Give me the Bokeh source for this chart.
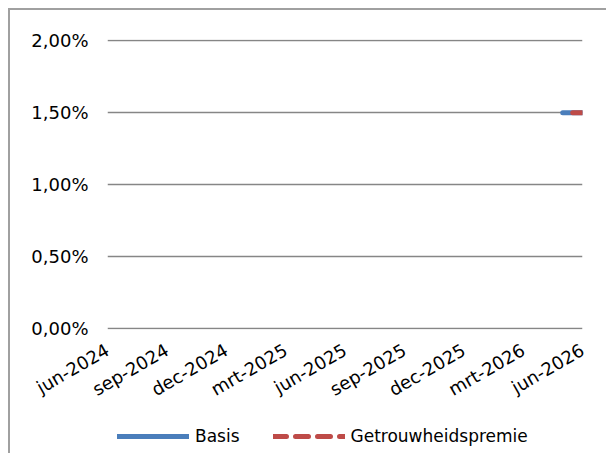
from bokeh.plotting import figure
from bokeh.layouts import column
from bokeh.models import Legend, LegendItem, FixedTicker, ColumnDataSource
from bokeh.embed import file_html
from bokeh.resources import INLINE

# ---- data ----
tick_labels = ["jun-2024", "sep-2024", "dec-2024", "mrt-2025", "jun-2025",
               "sep-2025", "dec-2025", "mrt-2026", "jun-2026"]
dates = ["2026-05", "2026-06"]
basis = [1.5, 1.5]
getrouwheidspremie = [1.5, 1.5]
y_ticks = [0.0, 0.5, 1.0, 1.5, 2.0]
y_labels = ["0,00%", "0,50%", "1,00%", "1,50%", "2,00%"]

start_year, start_month = 2024, 6
def month_index(s):
    y, m = s.split("-")
    return (int(y) - start_year) * 12 + (int(m) - start_month)

x = [month_index(d) for d in dates]
src = ColumnDataSource(dict(x=x, basis=basis, premie=getrouwheidspremie))

FONT = "DejaVu Sans"
BLUE = "#4a7ebb"
RED = "#be4b48"

p = figure(width=596, height=402, output_backend="svg", toolbar_location=None,
           x_range=(0, 24), y_range=(-0.01, 2.01),
           min_border_left=97, min_border_top=29, min_border_right=24,
           min_border_bottom=68)
p.outline_line_color = None
p.background_fill_color = "white"
p.border_fill_color = "white"

p.xaxis.ticker = FixedTicker(ticks=list(range(0, 25, 3)))
p.xaxis.major_label_overrides = {i * 3: lab for i, lab in enumerate(tick_labels)}
p.xaxis.major_label_orientation = 0.5236
p.yaxis.ticker = FixedTicker(ticks=y_ticks)
p.yaxis.major_label_overrides = {t: l for t, l in zip(y_ticks, y_labels)}
for ax in (p.xaxis, p.yaxis):
    ax.axis_line_color = None
    ax.major_tick_line_color = None
    ax.minor_tick_line_color = None
    ax.major_tick_out = 0
    ax.major_tick_in = 0
    ax.major_label_text_font = FONT
    ax.major_label_text_color = "#000000"
    ax.major_label_text_font_size = "18px"
p.yaxis.major_label_standoff = 19
p.xaxis.major_label_standoff = 19

p.xgrid.grid_line_color = None
p.ygrid.grid_line_color = "#868686"
p.ygrid.grid_line_width = 1.6

p.line("x", "basis", source=src, line_color=BLUE, line_width=5, line_cap="round")
p.line("x", "premie", source=src, line_color=RED, line_width=5,
       line_dash="12 10", line_dash_offset=12, line_cap="round")

# legend strip below the chart
lg = figure(width=596, height=41, output_backend="svg", toolbar_location=None,
            x_range=(100, 101), y_range=(100, 101),
            x_axis_type=None, y_axis_type=None,
            min_border_left=0, min_border_right=0, min_border_top=0, min_border_bottom=0)
lg.outline_line_color = None
lg.xgrid.grid_line_color = None
lg.ygrid.grid_line_color = None
l1 = lg.line("x", "basis", source=src, line_color=BLUE, line_width=5, line_cap="round")
l2 = lg.line("x", "premie", source=src, line_color=RED, line_width=5,
             line_dash="13 9", line_cap="round")
legend = Legend(items=[LegendItem(label="Basis", renderers=[l1]),
                       LegendItem(label="Getrouwheidspremie", renderers=[l2])],
                orientation="horizontal", location=(10, 7),
                glyph_width=72, glyph_height=20, label_text_font=FONT,
                label_text_font_size="17px", label_text_color="#000000",
                label_standoff=6, spacing=33, padding=0, margin=0,
                border_line_color=None, background_fill_alpha=0)
lg.add_layout(legend, "center")

layout = column(p, lg, spacing=0,
                styles={"margin-left": "8px", "margin-top": "8px",
                        "border-left": "2px solid #a0a0a0",
                        "border-top": "2px solid #a0a0a0"})
open("out.html", "w").write(file_html(layout, INLINE))
